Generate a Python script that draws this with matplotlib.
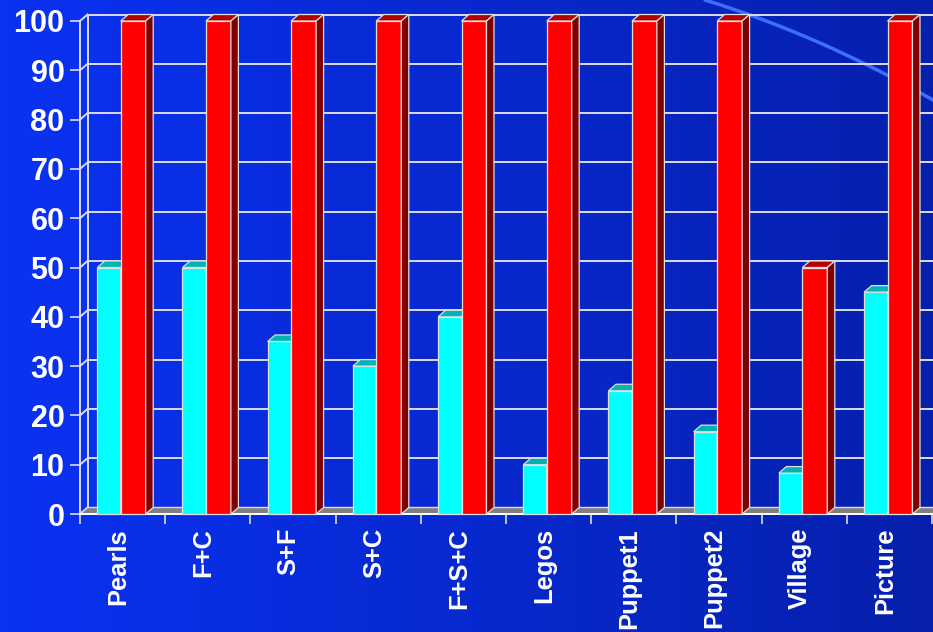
import numpy as np
import matplotlib
matplotlib.use("Agg")
import matplotlib.pyplot as plt
from matplotlib.patches import Polygon, Rectangle

categories = ["Pearls", "F+C", "S+F", "S+C", "F+S+C", "Legos", "Puppet1", "Puppet2", "Village", "Picture"]
series_cyan = [50, 50, 35, 30, 40, 10, 25, 16.7, 8.3, 45]
series_red = [100, 100, 100, 100, 100, 100, 100, 100, 50, 100]
y_ticks = list(range(0, 101, 10))

W, H = 933, 632
fig = plt.figure(figsize=(W / 100, H / 100), dpi=100)
plt.rcParams['font.family'] = ['Liberation Sans', 'DejaVu Sans']

# background gradient + decorative arc
bg = fig.add_axes([0, 0, 1, 1], zorder=-10)
bg.set_xlim(0, W); bg.set_ylim(H, 0); bg.axis('off')
left = np.array([10, 50, 242]) / 255
right = np.array([6, 32, 172]) / 255
t = np.linspace(0, 1, 256)[None, :, None]
grad = left[None, None, :] * (1 - t) + right[None, None, :] * t
bg.imshow(grad, extent=[0, W, H, 0], aspect='auto')
xs = np.linspace(705, 945, 200)
ys = 0.3075 * (xs - 705) + 0.000575 * (xs - 705) ** 2
bg.plot(xs, ys, color='#3c6eff', lw=2.5, solid_capstyle='round')

# main axes: front plane
L, R, B, T = 80, 932, 514, 21
ax = fig.add_axes([L / W, (H - B) / H, (R - L) / W, (B - T) / H])
n = len(categories)
ax.set_xlim(0, n); ax.set_ylim(0, 100)
ax.patch.set_visible(False)
for s in ax.spines.values():
    s.set_visible(False)

px_x = (R - L) / n
px_y = (B - T) / 100
dx = 7.5 / px_x
dy = 6.5 / px_y

gc = '#dcdce6'
lw = 1.4
# floor
ax.add_patch(Polygon([(0, 0), (n, 0), (n + dx, dy), (dx, dy)], closed=True,
                     facecolor='#808080', edgecolor=gc, lw=1.0, clip_on=False, zorder=1))
# back wall gridlines and left wall diagonals
for v in y_ticks:
    if v > 0:
        ax.plot([dx, n + dx + 1], [v + dy, v + dy], color=gc, lw=lw, clip_on=False, zorder=0.5)
    ax.plot([0, dx], [v, v + dy], color=gc, lw=lw, clip_on=False, zorder=0.5)
ax.plot([0, 0], [0, 100], color=gc, lw=lw, clip_on=False, zorder=0.5)
ax.plot([dx, dx], [dy, 100 + dy], color=gc, lw=lw, clip_on=False, zorder=0.5)
ax.plot([0, n], [0, 0], color='white', lw=lw, clip_on=False, zorder=3)

def box(x0, w, h, front, top, side, z):
    ec = '#e0e0e0'
    ax.add_patch(Rectangle((x0, 0), w, h, facecolor=front, edgecolor=ec, lw=0.9, clip_on=False, zorder=z))
    ax.add_patch(Polygon([(x0, h), (x0 + w, h), (x0 + w + dx, h + dy), (x0 + dx, h + dy)], closed=True,
                         facecolor=top, edgecolor=ec, lw=0.9, clip_on=False, zorder=z))
    ax.add_patch(Polygon([(x0 + w, 0), (x0 + w + dx, dy), (x0 + w + dx, h + dy), (x0 + w, h)], closed=True,
                         facecolor=side, edgecolor=ec, lw=0.9, clip_on=False, zorder=z))

off = 0.203
wc = 0.275
wr = 0.293
for i in range(n):
    x0 = i + off
    box(x0, wc, series_cyan[i], '#00ffff', '#00b4b4', '#008080', 4 + i * 0.01)
    box(x0 + wc, wr, series_red[i], '#ff0000', '#b40000', '#800000', 5 + i * 0.01)

# ticks
ax.set_yticks(y_ticks)
ax.set_yticklabels([str(v) for v in y_ticks], fontsize=22, fontweight='bold', color='white')
ax.tick_params(axis='y', length=10 * 72 / 100, width=1.2, color=gc, direction='out', pad=4)
ax.set_xticks(range(n + 1))
ax.set_xticklabels([''] * (n + 1))
ax.tick_params(axis='x', which='major', length=10 * 72 / 100, width=1.2, color=gc, direction='out')
ax.set_xticks([i + 0.45 for i in range(n)], minor=True)
ax.set_xticklabels(categories, minor=True, rotation=90, fontsize=18.4, fontweight='bold', color='white')
ax.tick_params(axis='x', which='minor', length=0, pad=10)

fig.savefig('out.png', dpi=100)
